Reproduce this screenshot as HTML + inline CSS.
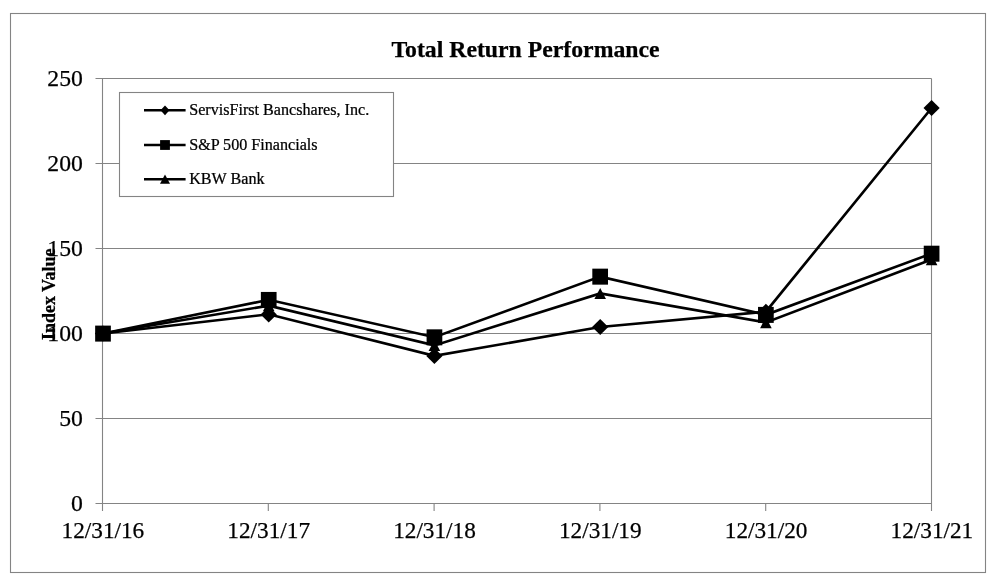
<!DOCTYPE html>
<html lang="en"><head><meta charset="utf-8"><title>Total Return Performance</title>
<style>
html,body{margin:0;padding:0;background:#ffffff;}
body{width:1000px;height:580px;overflow:hidden;font-family:"Liberation Serif",serif;}
svg{display:block;will-change:transform;}
text{font-family:"Liberation Serif",serif;fill:#000;stroke:#000;stroke-width:0.25px;}
</style></head><body>
<svg width="1000" height="580" viewBox="0 0 1000 580">
<rect x="0" y="0" width="1000" height="580" fill="#ffffff"/>
<rect x="10.5" y="13.5" width="975" height="559" fill="none" stroke="#848484" stroke-width="1.1"/>
<line x1="95.5" y1="503.5" x2="931.5" y2="503.5" stroke="#848484" stroke-width="1.1"/>
<line x1="95.5" y1="418.5" x2="931.5" y2="418.5" stroke="#848484" stroke-width="1.1"/>
<line x1="95.5" y1="333.5" x2="931.5" y2="333.5" stroke="#848484" stroke-width="1.1"/>
<line x1="95.5" y1="248.5" x2="931.5" y2="248.5" stroke="#848484" stroke-width="1.1"/>
<line x1="95.5" y1="163.5" x2="931.5" y2="163.5" stroke="#848484" stroke-width="1.1"/>
<line x1="95.5" y1="78.5" x2="931.5" y2="78.5" stroke="#848484" stroke-width="1.1"/>
<line x1="102.5" y1="78.5" x2="102.5" y2="511" stroke="#848484" stroke-width="1.1"/>
<line x1="931.5" y1="78.5" x2="931.5" y2="511" stroke="#848484" stroke-width="1.1"/>
<line x1="268.3" y1="503.5" x2="268.3" y2="511" stroke="#848484" stroke-width="1.1"/>
<line x1="434.1" y1="503.5" x2="434.1" y2="511" stroke="#848484" stroke-width="1.1"/>
<line x1="599.9" y1="503.5" x2="599.9" y2="511" stroke="#848484" stroke-width="1.1"/>
<line x1="765.7" y1="503.5" x2="765.7" y2="511" stroke="#848484" stroke-width="1.1"/>
<text x="82.9" y="511.2" font-size="23.7" text-anchor="end">0</text>
<text x="82.9" y="426.2" font-size="23.7" text-anchor="end">50</text>
<text x="82.9" y="341.2" font-size="23.7" text-anchor="end">100</text>
<text x="82.9" y="256.2" font-size="23.7" text-anchor="end">150</text>
<text x="82.9" y="171.2" font-size="23.7" text-anchor="end">200</text>
<text x="82.9" y="86.2" font-size="23.7" text-anchor="end">250</text>
<text x="102.9" y="538.3" font-size="23.25" text-anchor="middle">12/31/16</text>
<text x="268.7" y="538.3" font-size="23.25" text-anchor="middle">12/31/17</text>
<text x="434.5" y="538.3" font-size="23.25" text-anchor="middle">12/31/18</text>
<text x="600.3" y="538.3" font-size="23.25" text-anchor="middle">12/31/19</text>
<text x="766.1" y="538.3" font-size="23.25" text-anchor="middle">12/31/20</text>
<text x="931.9" y="538.3" font-size="23.25" text-anchor="middle">12/31/21</text>
<text x="525.5" y="57.1" font-size="23.75" font-weight="bold" text-anchor="middle" stroke="#000" stroke-width="0.3">Total Return Performance</text>
<text transform="translate(54.9,294.3) rotate(-90) scale(0.985,1)" font-size="18.3" font-weight="bold" text-anchor="middle">Index Value</text>
<polyline points="103.0,333.5 268.7,314.3 434.4,355.9 600.2,327.0 765.9,311.7 931.6,108.0" fill="none" stroke="#000" stroke-width="2.65" stroke-linejoin="miter"/>
<polyline points="103.0,333.5 268.7,299.8 434.4,337.2 600.2,276.6 765.9,314.8 931.6,253.6" fill="none" stroke="#000" stroke-width="2.65" stroke-linejoin="miter"/>
<polyline points="103.0,333.5 268.7,305.6 434.4,345.4 600.2,293.4 765.9,322.4 931.6,259.6" fill="none" stroke="#000" stroke-width="2.65" stroke-linejoin="miter"/>
<polygon points="103.0,325.6 111.1,333.6 103.0,341.6 94.9,333.6" fill="#000"/>
<polygon points="268.7,306.4 276.8,314.4 268.7,322.4 260.6,314.4" fill="#000"/>
<polygon points="434.4,348.0 442.5,356.0 434.4,364.0 426.3,356.0" fill="#000"/>
<polygon points="600.2,319.1 608.3,327.1 600.2,335.1 592.1,327.1" fill="#000"/>
<polygon points="765.9,303.8 774.0,311.8 765.9,319.8 757.8,311.8" fill="#000"/>
<polygon points="931.6,100.1 939.7,108.1 931.6,116.1 923.5,108.1" fill="#000"/>
<rect x="95.15" y="325.60" width="15.70" height="16.00" fill="#000"/>
<rect x="260.87" y="291.94" width="15.70" height="16.00" fill="#000"/>
<rect x="426.59" y="329.34" width="15.70" height="16.00" fill="#000"/>
<rect x="592.31" y="268.65" width="15.70" height="16.00" fill="#000"/>
<rect x="758.03" y="306.90" width="15.70" height="16.00" fill="#000"/>
<rect x="923.75" y="245.70" width="15.70" height="16.00" fill="#000"/>
<polygon points="103.0,328.0 108.8,339.2 97.2,339.2" fill="#000"/>
<polygon points="268.7,300.1 274.5,311.3 262.9,311.3" fill="#000"/>
<polygon points="434.4,339.9 440.2,351.1 428.6,351.1" fill="#000"/>
<polygon points="600.2,287.9 606.0,299.1 594.4,299.1" fill="#000"/>
<polygon points="765.9,316.9 771.7,328.2 760.1,328.2" fill="#000"/>
<polygon points="931.6,254.1 937.4,265.3 925.8,265.3" fill="#000"/>
<rect x="119.5" y="92.5" width="274" height="104" fill="#ffffff" stroke="#848484" stroke-width="1.1"/>
<line x1="144" y1="110.3" x2="185.6" y2="110.3" stroke="#000" stroke-width="2.4"/>
<text transform="translate(189.2,115.4) scale(0.99,1)" font-size="16.3">ServisFirst Bancshares, Inc.</text>
<line x1="144" y1="145.0" x2="185.6" y2="145.0" stroke="#000" stroke-width="2.4"/>
<text transform="translate(189.2,150.1) scale(0.99,1)" font-size="16.3">S&amp;P 500 Financials</text>
<line x1="144" y1="179.2" x2="185.6" y2="179.2" stroke="#000" stroke-width="2.4"/>
<text transform="translate(189.2,184.3) scale(0.99,1)" font-size="16.3">KBW Bank</text>
<polygon points="165.0,105.4 169.5,110.3 165.0,115.2 160.5,110.3" fill="#000"/>
<rect x="160.10" y="140.10" width="9.80" height="9.80" fill="#000"/>
<polygon points="165.0,174.5 170.0,183.7 160.0,183.7" fill="#000"/>
</svg>
</body></html>
